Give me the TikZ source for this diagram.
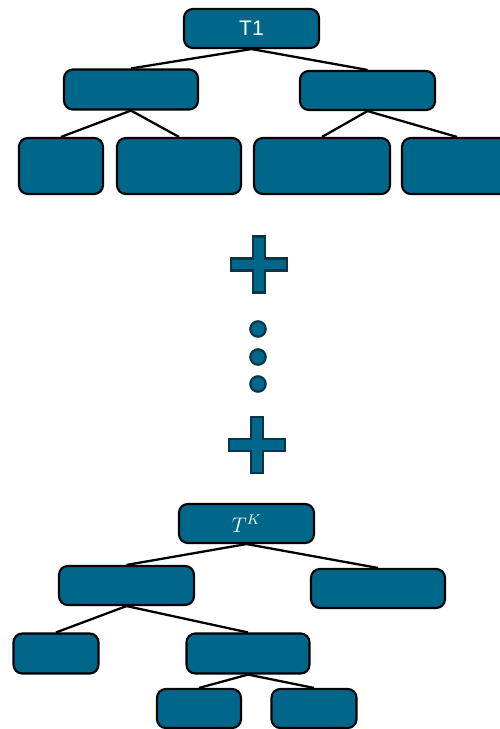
\documentclass[tikz,border=0pt]{standalone}
\usepackage{fontspec}
\setmainfont{Liberation Sans}
\usepackage{tikz}
\usetikzlibrary{shapes,calc,positioning}
\definecolor{TreeBlue}{RGB}{0,102,138}
\definecolor{TreeEdge}{RGB}{10,52,72}

\begin{document}
\begin{tikzpicture}
  \def\BCOL{TreeBlue}
  \tikzstyle{box} = [draw=black,fill=\BCOL,line width=1.2pt,rounded corners=5pt,inner sep=0pt,text=white,font=\large]
  \tikzstyle{lnk} = [draw=black,line width=1.3pt]
  \tikzstyle{sgn} = [fill=\BCOL,draw=TreeEdge,line width=1.2pt]
  \useasboundingbox (0,0) rectangle (10,-14.58);

  % first tree
  \node[box,minimum width=2.7cm,minimum height=0.78cm] (T1) at (5.03,-0.57) {T1};
  \node[box,minimum width=2.68cm,minimum height=0.8cm] (L1) at (2.62,-1.79) {};
  \node[box,minimum width=2.7cm,minimum height=0.78cm] (R1) at (7.35,-1.81) {};
  \node[box,minimum width=1.68cm,minimum height=1.12cm] (A1) at (1.22,-3.32) {};
  \node[box,minimum width=2.48cm,minimum height=1.12cm] (B1) at (3.58,-3.32) {};
  \node[box,minimum width=2.72cm,minimum height=1.12cm] (C1) at (6.44,-3.32) {};
  \node[box,minimum width=2.2cm,minimum height=1.12cm] (D1) at (9.14,-3.32) {};

  \draw[lnk] (T1.south) -- (L1.north);
  \draw[lnk] (T1.south) -- (R1.north);
  \draw[lnk] (L1.south) -- (A1.north);
  \draw[lnk] (L1.south) -- (B1.north);
  \draw[lnk] (R1.south) -- (C1.north);
  \draw[lnk] (R1.south) -- (D1.north);

  % plus, dots, plus
  \foreach \cx/\cy in {5.18/-5.29,5.14/-8.9}{
    \path[sgn] (\cx-0.12,\cy+0.56) -- (\cx+0.12,\cy+0.56) -- (\cx+0.12,\cy+0.12)
      -- (\cx+0.56,\cy+0.12) -- (\cx+0.56,\cy-0.12) -- (\cx+0.12,\cy-0.12)
      -- (\cx+0.12,\cy-0.56) -- (\cx-0.12,\cy-0.56) -- (\cx-0.12,\cy-0.12)
      -- (\cx-0.56,\cy-0.12) -- (\cx-0.56,\cy+0.12) -- (\cx-0.12,\cy+0.12) -- cycle;
  }
  \foreach \cy in {-6.58,-7.14,-7.68}
    \path[sgn] (5.16,\cy) circle (0.155);

  % last tree
  \node[box,minimum width=2.7cm,minimum height=0.78cm] (TK) at (4.93,-10.47) {$T^K$};
  \node[box,minimum width=2.7cm,minimum height=0.78cm] (L2) at (2.53,-11.71) {};
  \node[box,minimum width=2.68cm,minimum height=0.78cm] (R2) at (7.56,-11.77) {};
  \node[box,minimum width=1.7cm,minimum height=0.8cm] (A2) at (1.12,-13.07) {};
  \node[box,minimum width=2.46cm,minimum height=0.8cm] (B2) at (4.96,-13.07) {};
  \node[box,minimum width=1.68cm,minimum height=0.78cm] (C2) at (3.98,-14.17) {};
  \node[box,minimum width=1.7cm,minimum height=0.78cm] (D2) at (6.28,-14.17) {};

  \draw[lnk] (TK.south) -- (L2.north);
  \draw[lnk] (TK.south) -- (R2.north);
  \draw[lnk] (L2.south) -- (A2.north);
  \draw[lnk] (L2.south) -- (B2.north);
  \draw[lnk] (B2.south) -- (C2.north);
  \draw[lnk] (B2.south) -- (D2.north);
\end{tikzpicture}
\end{document}
